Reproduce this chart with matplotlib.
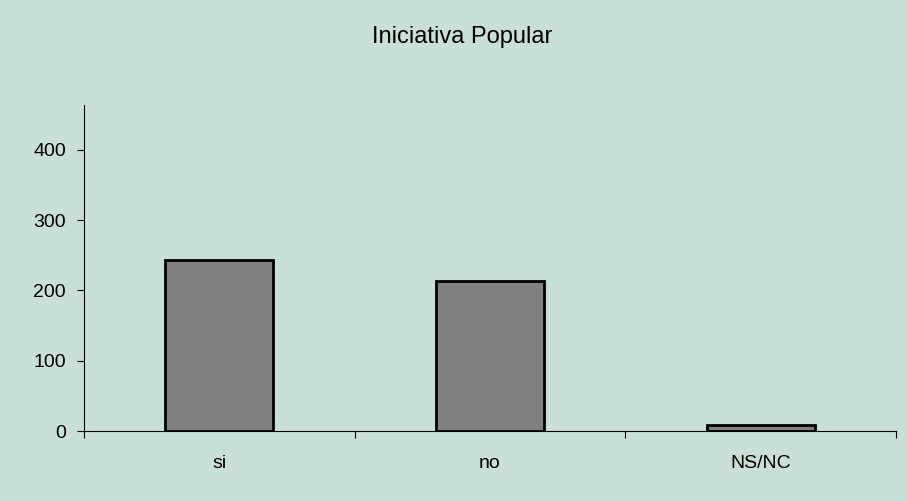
import matplotlib
matplotlib.use("Agg")
import matplotlib.pyplot as plt
from matplotlib.ticker import FixedLocator

categories = ["si", "no", "NS/NC"]
values = [243, 213, 8]
yticks = [0, 100, 200, 300, 400]
title = "Iniciativa Popular"

bg = "#C8E0D8"
plt.rcParams['font.family'] = ['Liberation Sans', 'DejaVu Sans']

fig = plt.figure(figsize=(9.07, 5.01), dpi=100, facecolor=bg)
ax = fig.add_axes([84/907, 70/501, 812/907, 326/501], facecolor=bg)

x = list(range(len(categories)))
ax.bar(x, values, width=0.4, color="#808080", edgecolor="black", linewidth=2, zorder=3)

ax.set_xlim(-0.5, len(categories) - 0.5)
ax.set_ylim(0, 464)
ax.set_yticks(yticks)
ax.set_yticklabels([str(v) for v in yticks], fontsize=14)
ax.set_xticks(x)
ax.set_xticklabels(categories, fontsize=14)
ax.tick_params(axis='x', which='major', length=0, pad=17)
ax.xaxis.set_minor_locator(FixedLocator([i - 0.5 for i in range(len(categories) + 1)]))
ax.tick_params(axis='x', which='minor', length=5, direction='out', color='black', width=0.8)
ax.tick_params(axis='y', length=5, direction='out', color='black', width=0.8, pad=8)

for s in ['top', 'right']:
    ax.spines[s].set_visible(False)
for s in ['left', 'bottom']:
    ax.spines[s].set_linewidth(0.8)
    ax.spines[s].set_color('black')

fig.text(462/907, 1 - 43/501, title, ha='center', va='baseline', fontsize=17)

fig.savefig("out.png", dpi=100, facecolor=bg)
